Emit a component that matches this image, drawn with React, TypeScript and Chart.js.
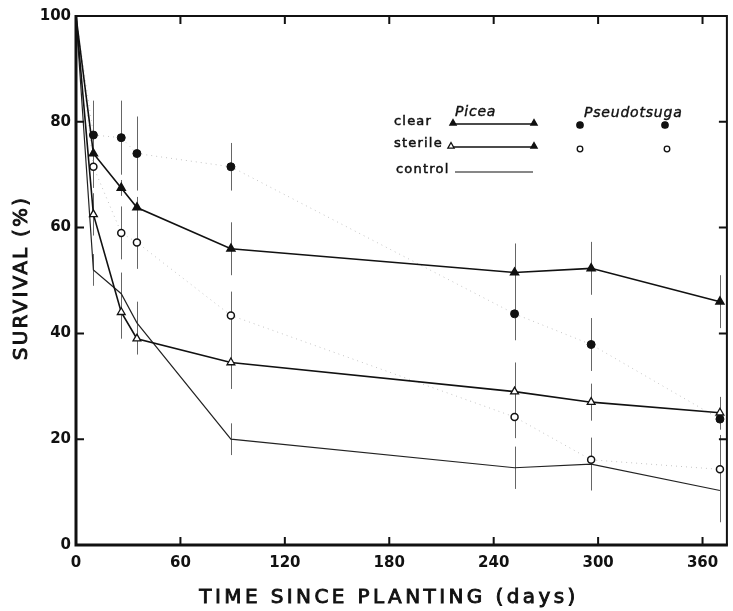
import React, { useEffect, useRef } from "react";
import { Chart, registerables } from "chart.js";

Chart.register(...registerables);

// ---- data ----
const DAYS = [0, 10, 26, 35, 89, 252, 296, 370];
const PICEA_CLEAR = [100, 74, 67.5, 63.8, 56, 51.5, 52.3, 46];
const PICEA_CLEAR_ERR = [0, 3, 1.5, 2, 5, 5.5, 5, 5];
const PICEA_STERILE = [100, 62.5, 44, 39, 34.5, 29, 27, 25];
const PICEA_STERILE_ERR = [0, 4, 5, 3, 5, 5.5, 3.5, 3];
const CONTROL = [100, 52, 47.5, 42, 20, 14.6, 15.3, 10.3];
const CONTROL_ERR = [0, 3, 4, 4, 3, 4, 5, 6];
const PSEUDO_CLEAR = [100, 77.5, 77, 74, 71.5, 43.7, 37.9, 23.8];
const PSEUDO_CLEAR_ERR = [0, 6.5, 7, 7, 4.5, 5, 5, 2];
const PSEUDO_STERILE = [100, 71.5, 59, 57.2, 43.4, 24.2, 16.1, 14.3];
const PSEUDO_STERILE_ERR = [0, 4, 5, 5, 4.5, 4, 3.5, 6.5];

const X_TICKS = [0, 60, 120, 180, 240, 300, 360];
const Y_TICKS = [0, 20, 40, 60, 80, 100];
const X_MAX = 374;

const X_TITLE = "TIME SINCE PLANTING (days)";
const Y_TITLE = "SURVIVAL (%)";
const LEGEND_ROWS = ["clear", "sterile", "control"];
const LEGEND_GENERA = ["Picea", "Pseudotsuga"];

const FONT = "'DejaVu Sans', sans-serif";
const INK = "#111";

const pts = (vals: number[]) => DAYS.map((d, i) => ({ x: d, y: vals[i] }));
const radii = (r: number) => DAYS.map((_, i) => (i === 0 ? 0 : r));

function triangle(ctx: CanvasRenderingContext2D, x: number, y: number, r: number, filled: boolean) {
  ctx.beginPath();
  ctx.moveTo(x, y - r);
  ctx.lineTo(x + r * 0.9, y + r * 0.6);
  ctx.lineTo(x - r * 0.9, y + r * 0.6);
  ctx.closePath();
  ctx.fillStyle = filled ? INK : "#fff";
  ctx.fill();
  ctx.strokeStyle = INK;
  ctx.lineWidth = 1.3;
  ctx.stroke();
}

function circle(ctx: CanvasRenderingContext2D, x: number, y: number, r: number, filled: boolean) {
  ctx.beginPath();
  ctx.arc(x, y, r, 0, Math.PI * 2);
  ctx.fillStyle = filled ? INK : "#fff";
  ctx.fill();
  ctx.strokeStyle = INK;
  ctx.lineWidth = 1.3;
  ctx.stroke();
}

function boldText(ctx: CanvasRenderingContext2D, t: string, x: number, y: number, w: number) {
  ctx.fillText(t, x, y);
  ctx.lineWidth = w;
  ctx.strokeStyle = INK;
  ctx.strokeText(t, x, y);
}

const errorBarPlugin = {
  id: "errorBars",
  beforeDatasetsDraw(chart: any) {
    const { ctx } = chart;
    const xs = chart.scales.x;
    const ys = chart.scales.y;
    ctx.save();
    ctx.strokeStyle = "#666";
    ctx.lineWidth = 1;
    chart.data.datasets.forEach((ds: any) => {
      const errs: number[] = ds.errors;
      if (!errs) return;
      ds.data.forEach((p: any, i: number) => {
        const e = errs[i];
        if (!e) return;
        const px = Math.round(xs.getPixelForValue(p.x)) + 0.5;
        ctx.beginPath();
        ctx.moveTo(px, ys.getPixelForValue(p.y - e));
        ctx.lineTo(px, ys.getPixelForValue(p.y + e));
        ctx.stroke();
      });
    });
    ctx.restore();
  },
};

const framePlugin = {
  id: "frame",
  afterDraw(chart: any) {
    const { ctx, chartArea: a } = chart;
    const xs = chart.scales.x;
    const ys = chart.scales.y;
    ctx.save();
    ctx.strokeStyle = INK;
    ctx.lineWidth = 2;
    ctx.beginPath();
    ctx.moveTo(a.left, a.top);
    ctx.lineTo(a.right, a.top);
    ctx.lineTo(a.right, a.bottom);
    ctx.stroke();
    ctx.lineWidth = 3;
    ctx.beginPath();
    ctx.moveTo(a.left, a.top - 1);
    ctx.lineTo(a.left, a.bottom);
    ctx.lineTo(a.right + 1, a.bottom);
    ctx.stroke();
    ctx.lineWidth = 2;
    const tl = 8;
    X_TICKS.forEach((v) => {
      if (v === 0) return;
      const px = xs.getPixelForValue(v);
      ctx.beginPath();
      ctx.moveTo(px, a.bottom);
      ctx.lineTo(px, a.bottom - tl);
      ctx.moveTo(px, a.top);
      ctx.lineTo(px, a.top + tl);
      ctx.stroke();
    });
    Y_TICKS.forEach((v) => {
      if (v === 0 || v === 100) return;
      const py = ys.getPixelForValue(v);
      ctx.beginPath();
      ctx.moveTo(a.left, py);
      ctx.lineTo(a.left + tl, py);
      ctx.moveTo(a.right, py);
      ctx.lineTo(a.right - tl, py);
      ctx.stroke();
    });

    // axis titles
    ctx.fillStyle = INK;
    ctx.textAlign = "center";
    ctx.textBaseline = "middle";
    ctx.font = `20px ${FONT}`;
    (ctx as any).letterSpacing = "3.4px";
    boldText(ctx, X_TITLE, 389, 598, 0.9);
    ctx.save();
    ctx.translate(22, 278);
    ctx.rotate(-Math.PI / 2);
    (ctx as any).letterSpacing = "2.2px";
    boldText(ctx, Y_TITLE, 0, 0, 0.9);
    ctx.restore();

    // legend
    ctx.font = `13px ${FONT}`;
    (ctx as any).letterSpacing = "1.2px";
    ctx.textAlign = "left";
    boldText(ctx, LEGEND_ROWS[0], 394, 122, 0.5);
    boldText(ctx, LEGEND_ROWS[1], 394, 144, 0.5);
    boldText(ctx, LEGEND_ROWS[2], 396, 170, 0.5);
    ctx.font = `italic 14px ${FONT}`;
    (ctx as any).letterSpacing = "0.8px";
    boldText(ctx, LEGEND_GENERA[0], 455, 112, 0.4);
    boldText(ctx, LEGEND_GENERA[1], 584, 113, 0.4);
    (ctx as any).letterSpacing = "0px";

    ctx.strokeStyle = INK;
    ctx.lineWidth = 1.6;
    ctx.beginPath();
    ctx.moveTo(453, 124);
    ctx.lineTo(534, 124);
    ctx.moveTo(451, 147);
    ctx.lineTo(534, 147);
    ctx.stroke();
    ctx.lineWidth = 1.1;
    ctx.beginPath();
    ctx.moveTo(455, 172);
    ctx.lineTo(533, 172);
    ctx.stroke();
    triangle(ctx, 453, 123, 3.5, true);
    triangle(ctx, 534, 123, 3.5, true);
    triangle(ctx, 451, 146, 3.5, false);
    triangle(ctx, 534, 146, 3.5, true);
    circle(ctx, 580, 125, 3.2, true);
    circle(ctx, 665, 125, 3.2, true);
    circle(ctx, 580, 149, 2.8, false);
    circle(ctx, 667, 149, 2.8, false);
    ctx.restore();
  },
};

export default function App() {
  const ref = useRef<HTMLCanvasElement | null>(null);

  useEffect(() => {
    if (!ref.current) return;
    const tickFont = { family: FONT, size: 15, weight: "bold" as const };
    const chart = new Chart(ref.current, {
      type: "line",
      data: {
        datasets: [
          {
            label: "Picea clear",
            data: pts(PICEA_CLEAR),
            errors: PICEA_CLEAR_ERR,
            borderColor: INK,
            borderWidth: 1.6,
            pointStyle: "triangle",
            pointRadius: radii(4.5),
            pointBackgroundColor: INK,
            pointBorderColor: INK,
          } as any,
          {
            label: "Picea sterile",
            data: pts(PICEA_STERILE),
            errors: PICEA_STERILE_ERR,
            borderColor: INK,
            borderWidth: 1.6,
            pointStyle: "triangle",
            pointRadius: radii(4.5),
            pointBackgroundColor: "#fff",
            pointBorderColor: INK,
            pointBorderWidth: 1.3,
          } as any,
          {
            label: "control",
            data: pts(CONTROL),
            errors: CONTROL_ERR,
            borderColor: "#222",
            borderWidth: 1.2,
            pointRadius: 0,
          } as any,
          {
            label: "Pseudotsuga clear",
            data: pts(PSEUDO_CLEAR),
            errors: PSEUDO_CLEAR_ERR,
            borderColor: "#c4c4c4",
            borderWidth: 1,
            borderDash: [1, 4],
            pointStyle: "circle",
            pointRadius: radii(4),
            pointBackgroundColor: INK,
            pointBorderColor: INK,
          } as any,
          {
            label: "Pseudotsuga sterile",
            data: pts(PSEUDO_STERILE),
            errors: PSEUDO_STERILE_ERR,
            borderColor: "#c4c4c4",
            borderWidth: 1,
            borderDash: [1, 4],
            pointStyle: "circle",
            pointRadius: radii(3.5),
            pointBackgroundColor: "#fff",
            pointBorderColor: INK,
            pointBorderWidth: 1.5,
          } as any,
        ],
      },
      options: {
        animation: false,
        responsive: false,
        maintainAspectRatio: false,
        layout: { padding: { top: 16, right: 2, left: 0, bottom: 0 } },
        plugins: { legend: { display: false }, tooltip: { enabled: false } },
        elements: { line: { tension: 0 } },
        scales: {
          x: {
            type: "linear",
            min: 0,
            max: X_MAX,
            grid: { display: false, drawTicks: false },
            border: { display: false },
            afterFit: (s: any) => {
              s.height = 66;
            },
            afterBuildTicks: (s: any) => {
              s.ticks = X_TICKS.map((v) => ({ value: v }));
            },
            ticks: { color: INK, font: tickFont, padding: 9, maxRotation: 0 },
          },
          y: {
            type: "linear",
            min: 0,
            max: 100,
            grid: { display: false, drawTicks: false },
            border: { display: false },
            afterFit: (s: any) => {
              s.width = 76;
            },
            afterBuildTicks: (s: any) => {
              s.ticks = Y_TICKS.map((v) => ({ value: v }));
            },
            ticks: { color: INK, font: tickFont, padding: 5 },
          },
        },
      } as any,
      plugins: [errorBarPlugin, framePlugin],
    });
    return () => chart.destroy();
  }, []);

  return (
    <div style={{ position: "fixed", left: 0, top: 0, width: 733, height: 611, background: "#fff" }}>
      <canvas ref={ref} width={733} height={611} style={{ width: 733, height: 611, display: "block" }} />
    </div>
  );
}
